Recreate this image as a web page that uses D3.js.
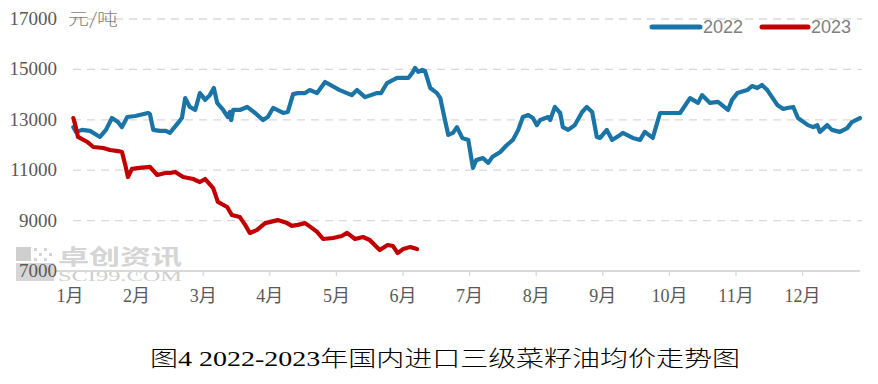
<!DOCTYPE html>
<html><head><meta charset="utf-8">
<script src="https://cdn.jsdelivr.net/npm/d3@7/dist/d3.min.js"></script>
<style>body{margin:0;background:#fff}svg{display:block}</style>
</head><body>
<svg id="c" width="878" height="384"></svg>
<script>
// ---- data ----
const months = ["1月","2月","3月","4月","5月","6月","7月","8月","9月","10月","11月","12月"];
const yTicks = [7000, 9000, 11000, 13000, 15000, 17000];
const seriesNames = ["2022", "2023"];
const unitLabel = "元/吨";
const titleText = "图4  2022-2023年国内进口三级菜籽油均价走势图";
// position in months since Jan 1 (0 = Jan 1, 1 = Feb 1, ...)
const pos2022 = [0.05,0.09,0.18,0.30,0.45,0.54,0.63,0.72,0.78,0.86,0.98,1.17,1.20,1.25,1.35,1.44,1.50,1.62,1.68,1.73,1.80,1.88,1.95,2.03,2.10,2.16,2.21,2.30,2.37,2.40,2.42,2.45,2.55,2.66,2.78,2.90,2.97,3.05,3.20,3.27,3.35,3.42,3.53,3.60,3.71,3.83,4.05,4.23,4.31,4.43,4.61,4.67,4.76,4.91,5.08,5.14,5.18,5.23,5.29,5.33,5.41,5.51,5.56,5.63,5.68,5.75,5.81,5.89,5.98,6.05,6.10,6.20,6.28,6.34,6.46,6.56,6.65,6.73,6.80,6.88,6.95,7.01,7.06,7.18,7.21,7.28,7.36,7.40,7.48,7.58,7.69,7.76,7.84,7.91,7.96,8.06,8.14,8.26,8.30,8.45,8.56,8.63,8.75,8.86,9.16,9.31,9.43,9.49,9.61,9.73,9.88,9.94,10.02,10.17,10.24,10.32,10.39,10.47,10.62,10.71,10.77,10.86,10.93,11.08,11.16,11.22,11.26,11.37,11.44,11.56,11.67,11.74,11.86];
const val2022 = [12710,12520,12600,12560,12320,12600,13070,12910,12710,13110,13150,13270,13230,12600,12560,12560,12480,12870,13070,13860,13510,13390,14060,13790,13980,14260,13670,13390,13110,13310,12990,13390,13390,13510,13270,12990,13110,13470,13270,13310,14020,14060,14060,14180,14060,14500,14180,13980,14180,13900,14060,14060,14460,14660,14660,14860,15060,14900,14980,14940,14260,14060,13860,12990,12400,12480,12710,12280,12200,11090,11400,11480,11290,11520,11720,12000,12200,12600,13110,13190,13070,12790,12990,13110,12990,13510,13270,12710,12600,12790,13310,13510,13310,12320,12280,12600,12200,12400,12480,12280,12200,12520,12280,13270,13270,13860,13670,13980,13670,13710,13390,13790,14060,14180,14340,14260,14380,14180,13590,13430,13470,13510,13070,12790,12710,12790,12520,12790,12600,12520,12670,12910,13070];
const pos2023 = [0.05,0.08,0.12,0.26,0.35,0.50,0.60,0.72,0.78,0.83,0.87,0.93,1.05,1.20,1.31,1.43,1.50,1.58,1.70,1.85,1.95,2.03,2.15,2.22,2.36,2.43,2.55,2.63,2.70,2.81,2.93,3.12,3.26,3.33,3.42,3.53,3.63,3.71,3.80,3.95,4.08,4.16,4.28,4.40,4.50,4.65,4.77,4.85,4.92,5.00,5.11,5.21];
const val2023 = [13070,12790,12320,12120,11920,11880,11800,11760,11720,11210,10730,11050,11090,11130,10810,10890,10890,10930,10730,10650,10530,10650,10290,9740,9540,9220,9140,8830,8510,8630,8900,9020,8900,8790,8830,8900,8710,8550,8270,8310,8390,8510,8270,8350,8230,7830,8030,7990,7710,7870,7950,7870];
const colors = ["#1a74a6", "#c00000"];

// ---- chart ----
const svg = d3.select("#c");
const x = d3.scaleLinear().domain([0, 12]).range([70, 869.2]);
const y = d3.scaleLinear().domain([7000, 17000]).range([271, 19]);
const plotLeft = 73, plotRight = 862;

// watermark
const wm = svg.append("g");
wm.append("rect").attr("x", 16).attr("y", 247).attr("width", 15).attr("height", 14).attr("fill", "#cfcfcf");
for (let i = 0; i < 4; i++) for (let j = 0; j < 3; j++) {
  if ((i + j) % 2 === 0) wm.append("rect").attr("x", 34 + i * 5).attr("y", 248 + j * 5).attr("width", 3).attr("height", 3).attr("fill", "#d4d4d4");
}
wm.append("rect").attr("x", 16).attr("y", 263).attr("width", 38).attr("height", 18).attr("fill", "#d6d6d6");
wm.append("text").attr("x", 58).attr("y", 264).attr("font-family", "Noto Sans CJK SC").attr("font-weight", 700)
  .attr("font-size", 21).attr("fill", "#d5d5d5").attr("textLength", 124).attr("lengthAdjust", "spacingAndGlyphs").text("卓创资讯");
wm.append("text").attr("x", 58).attr("y", 281).attr("font-family", "Liberation Serif")
  .attr("font-size", 14).attr("fill", "#d0d0d0").attr("textLength", 124).attr("lengthAdjust", "spacingAndGlyphs").text("SCI99.COM");

// gridlines
svg.append("g").selectAll("line").data(yTicks.filter(d => d > 7000)).join("line")
  .attr("x1", plotLeft).attr("x2", plotRight).attr("y1", d => y(d)).attr("y2", d => y(d))
  .attr("stroke", "#d9d9d9").attr("stroke-width", 1.3).attr("stroke-dasharray", "8,6");

// x axis line and ticks
svg.append("line").attr("x1", 55).attr("x2", 860).attr("y1", y(7000)).attr("y2", y(7000))
  .attr("stroke", "#d9d9d9").attr("stroke-width", 2);
svg.append("g").selectAll("line").data(d3.range(1, 12)).join("line")
  .attr("x1", d => x(d)).attr("x2", d => x(d)).attr("y1", y(7000)).attr("y2", y(7000) + 5)
  .attr("stroke", "#d9d9d9").attr("stroke-width", 1.3);

// y labels
svg.append("g").selectAll("text").data(yTicks).join("text")
  .attr("x", 57).attr("y", d => y(d) + 6).attr("text-anchor", "end")
  .attr("font-family", "Liberation Serif").attr("font-size", 19).attr("fill", "#595959")
  .text(d => d);
svg.append("text").attr("x", 68).attr("y", 25).attr("font-family", "Noto Sans CJK SC").attr("font-weight", 300)
  .attr("font-size", 17).attr("fill", "#7f7f7f").attr("textLength", 50).attr("lengthAdjust", "spacingAndGlyphs").text(unitLabel);

// month labels
svg.append("g").selectAll("text").data(months).join("text")
  .attr("x", (d, i) => x(i)).attr("y", 302).attr("text-anchor", "middle")
  .attr("font-family", "Liberation Serif, Noto Sans CJK SC").attr("font-size", 18).attr("fill", "#595959")
  .text(d => d);

// lines
const line = d3.line().x(d => x(d[0])).y(d => y(d[1])).curve(d3.curveLinear);
const s2022 = pos2022.map((p, i) => [p, val2022[i]]);
const s2023 = pos2023.map((p, i) => [p, val2023[i]]);
[s2022, s2023].forEach((s, k) => {
  svg.append("path").datum(s).attr("d", line).attr("fill", "none")
    .attr("stroke", colors[k]).attr("stroke-width", 4.2).attr("stroke-linejoin", "round").attr("stroke-linecap", "round");
});

// legend
const lg = svg.append("g");
[[652, 700, 703], [762, 808, 811]].forEach((p, k) => {
  lg.append("line").attr("x1", p[0]).attr("x2", p[1]).attr("y1", 27).attr("y2", 27)
    .attr("stroke", colors[k]).attr("stroke-width", 5).attr("stroke-linecap", "round");
  lg.append("text").attr("x", p[2]).attr("y", 33).attr("font-family", "Liberation Sans")
    .attr("font-size", 18).attr("fill", "#808080").text(seriesNames[k]);
});

// title
svg.append("text").attr("x", 150).attr("y", 366).attr("font-family", "Liberation Serif, Noto Sans CJK SC").attr("font-weight", 300)
  .attr("font-size", 22).attr("fill", "#000").attr("textLength", 590).attr("lengthAdjust", "spacingAndGlyphs")
  .text(titleText);
</script>
</body></html>
